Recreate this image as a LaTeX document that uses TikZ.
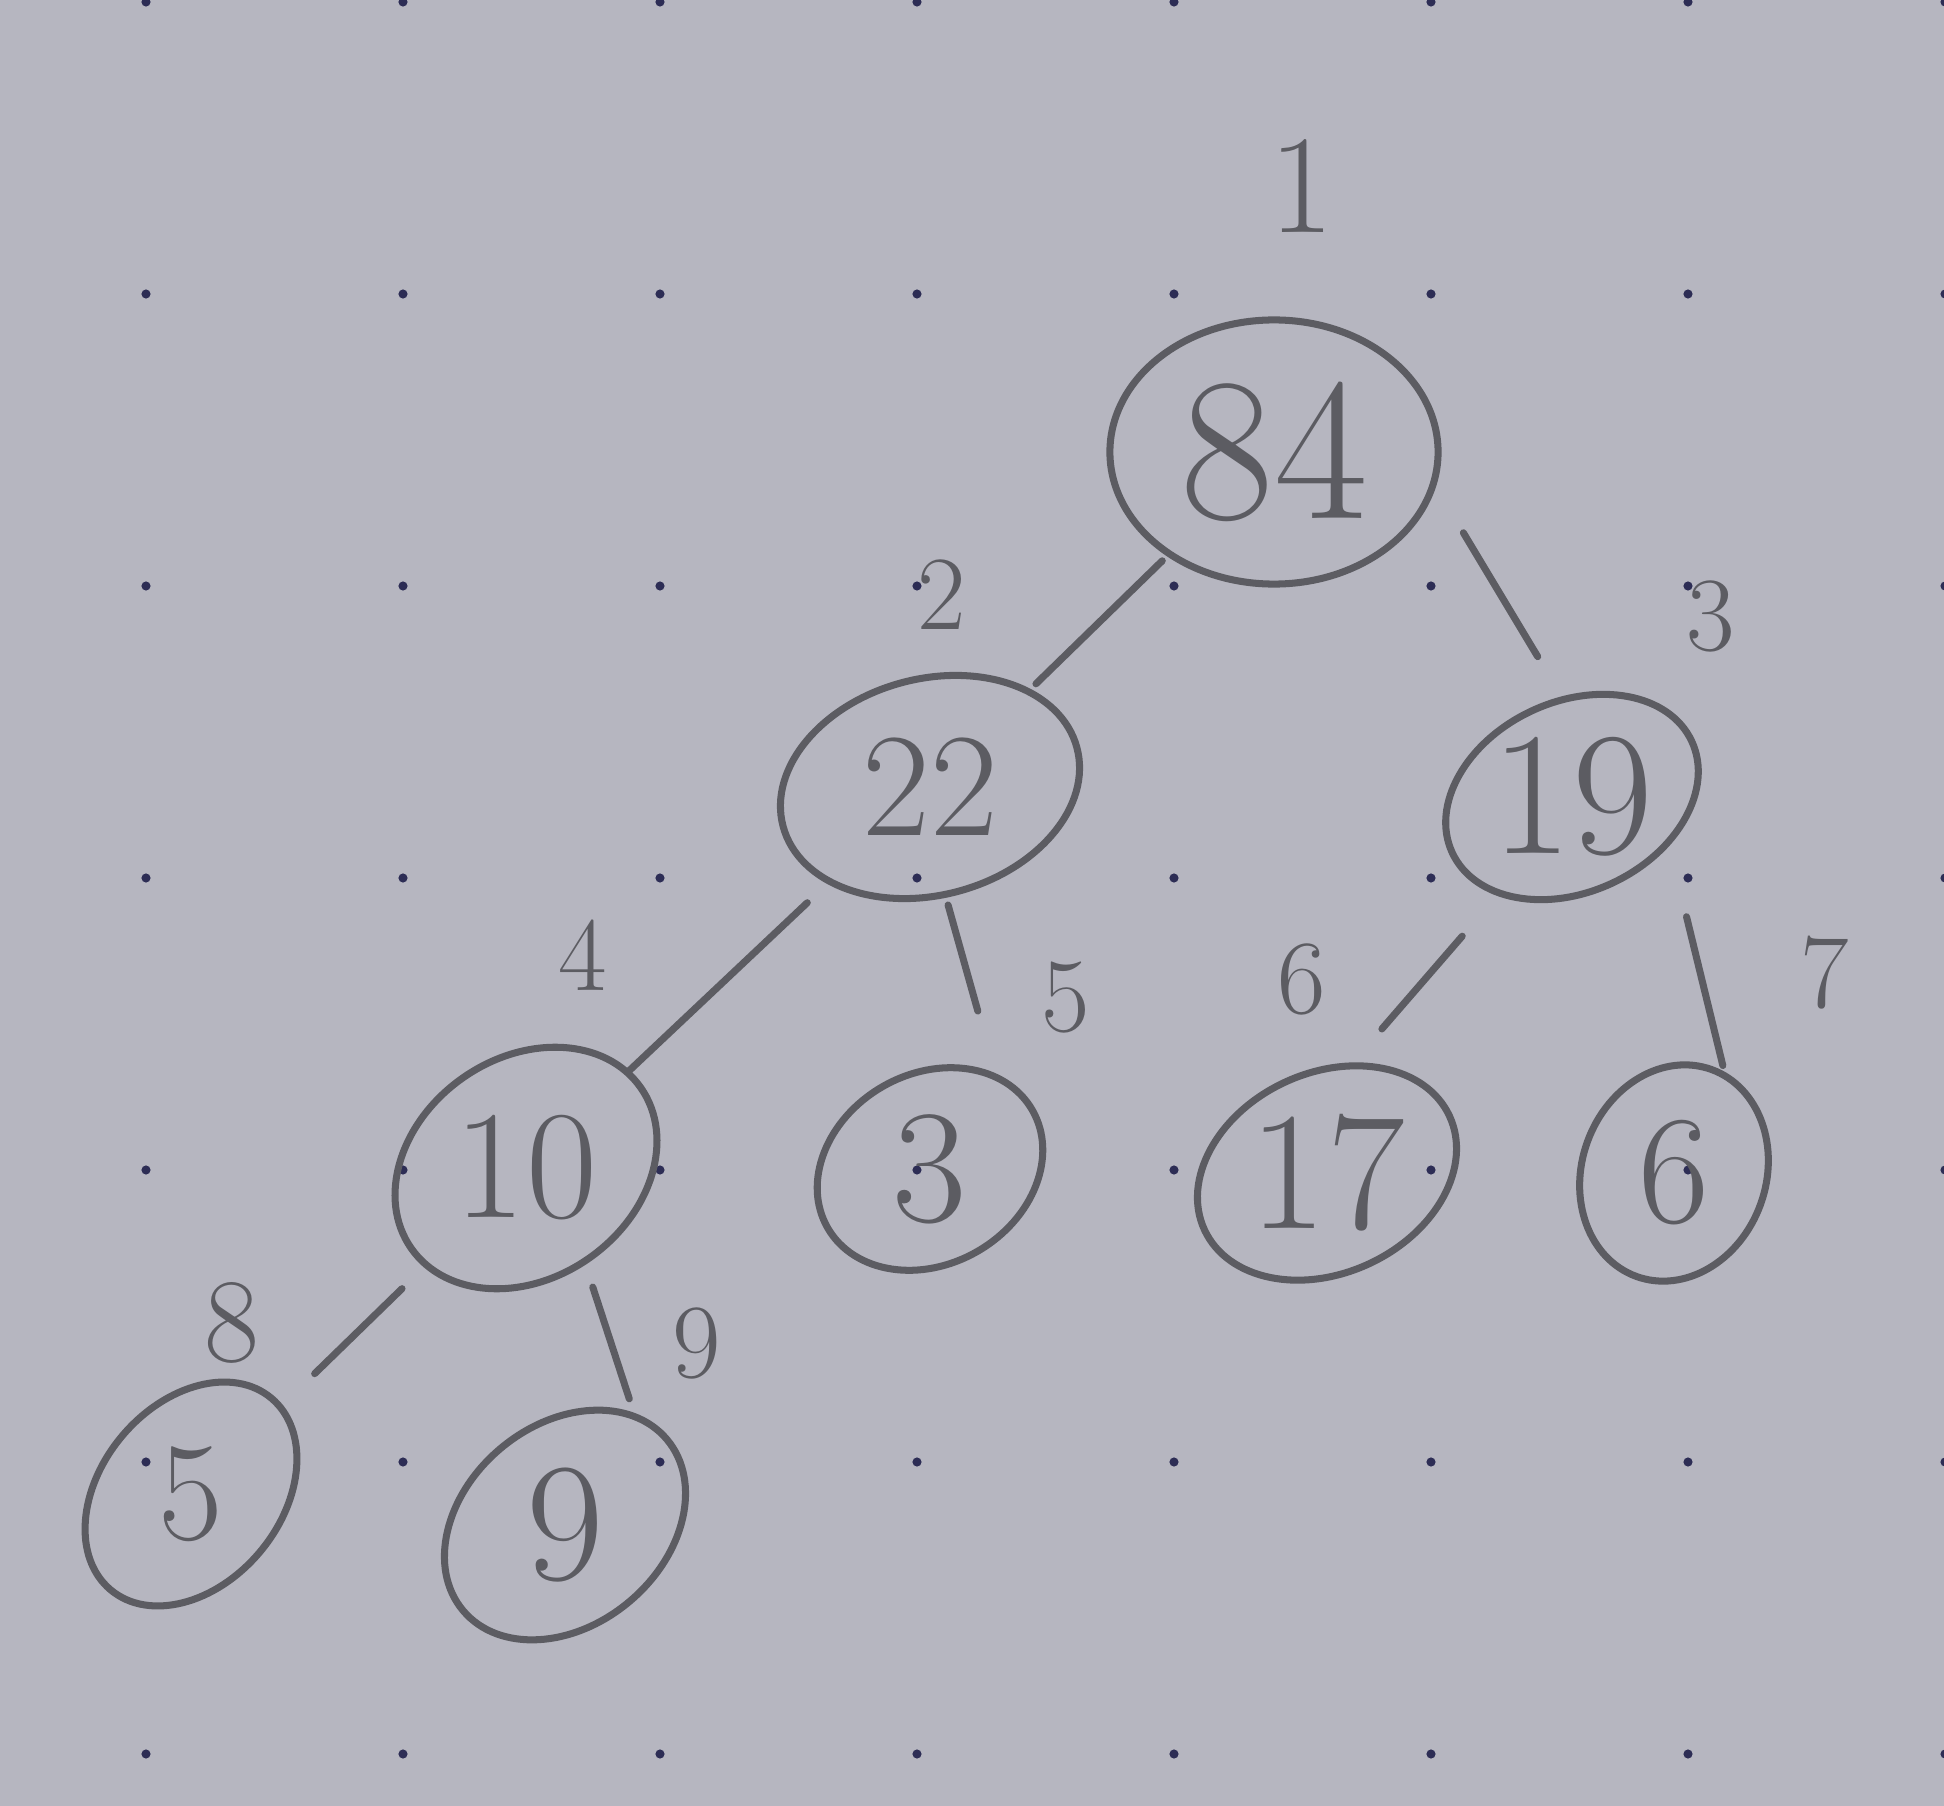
\documentclass[tikz,border=0pt]{standalone}
\usepackage{fontspec}
\usetikzlibrary{shapes.geometric}
\definecolor{paper}{RGB}{182,182,192}
\definecolor{pencil}{RGB}{92,92,98}
\definecolor{dotc}{RGB}{45,45,85}
\begin{document}
\begin{tikzpicture}[x=0.01cm,y=-0.01cm,
    heap/.style={draw=pencil, line width=2pt, ellipse, inner sep=0pt, outer sep=0pt},
    val/.style={text=pencil, font=\fontsize{44}{48}\selectfont},
    idx/.style={text=pencil, font=\fontsize{30}{34}\selectfont},
    edge/.style={draw=pencil, line width=2pt, line cap=round}]
    \useasboundingbox (0,0) rectangle (1944,1806);
    % paper and dot grid
    \fill[paper] (0,0) rectangle (1944,1806);
    \begin{scope}
      \clip (0,0) rectangle (1944,1806);
      \foreach \i in {0,...,7}
        \foreach \j in {0,...,6}
          \fill[dotc] (146+257*\i,2+292*\j) circle (1.3pt);
    \end{scope}
    % heap nodes
    \node[heap, minimum width=3.28cm, minimum height=2.64cm] (h1) at (1274,452) {};
    \node[heap, rotate=15, minimum width=3.04cm, minimum height=2.16cm] (h2) at (930,787) {};
    \node[heap, rotate=25, minimum width=2.64cm, minimum height=1.90cm] (h3) at (1572,797) {};
    \node[heap, rotate=35, minimum width=2.80cm, minimum height=2.20cm] (h4) at (526,1168) {};
    \node[heap, rotate=30, minimum width=2.36cm, minimum height=1.90cm] (h5) at (930,1169) {};
    \node[heap, rotate=25, minimum width=2.70cm, minimum height=2.00cm] (h6) at (1327,1173) {};
    \node[heap, rotate=70, minimum width=2.20cm, minimum height=1.84cm] (h7) at (1674,1173) {};
    \node[heap, rotate=50, minimum width=2.50cm, minimum height=1.80cm] (h8) at (191,1494) {};
    \node[heap, rotate=40, minimum width=2.66cm, minimum height=2.00cm] (h9) at (565,1525) {};
    % values
    \node[val, font=\fontsize{58}{60}\selectfont] (v1) at (h1) {84};
    \node[val, font=\fontsize{42}{46}\selectfont] (v2) at (h2) {22};
    \node[val, font=\fontsize{50}{54}\selectfont] (v3) at (h3) {19};
    \node[val] (v4) at (h4) {10};
    \node[val, font=\fontsize{46}{50}\selectfont] (v5) at (h5) {3};
    \node[val, font=\fontsize{48}{52}\selectfont] (v6) at (h6) {17};
    \node[val] (v7) at (h7) {6};
    \node[val, font=\fontsize{40}{44}\selectfont] (v8) at (h8) {5};
    \node[val, font=\fontsize{48}{52}\selectfont] (v9) at (h9) {9};
    % edges
    \draw[edge, shorten <=0.10cm, shorten >=0.11cm] (h1) -- (h2);
    \draw[edge, shorten <=0.58cm, shorten >=0.50cm] (h1.-11) -- (h3.70);
    \draw[edge, shorten <=0.31cm, shorten >=0.03cm] (h2) -- (h4);
    \draw[edge, shorten <=0.11cm, shorten >=0.69cm] (h2.-97) -- (h5.24);
    \draw[edge, shorten <=0.57cm, shorten >=0.49cm] (h3.208) -- (h6.53);
    \draw[edge, shorten <=0.77cm, shorten >=0.11cm] (h3.-50) -- (h7.-8);
    \draw[edge, shorten <=0.34cm, shorten >=0.48cm] (h4) -- (h8);
    \draw[edge, shorten <=0.27cm, shorten >=0.19cm] (h4.-93) -- (h9.17);
    % indices
    \node[idx, font=\fontsize{40}{44}\selectfont] (i1) at (1302,186) {1};
    \node[idx] (i2) at (942,595) {2};
    \node[idx] (i3) at (1711,616) {3};
    \node[idx] (i4) at (583,955) {4};
    \node[idx] (i5) at (1066,998) {5};
    \node[idx] (i6) at (1302,979) {6};
    \node[idx] (i7) at (1825,973) {7};
    \node[idx, font=\fontsize{34}{38}\selectfont] (i8) at (232,1323) {8};
    \node[idx] (i9) at (697,1343) {9};
\end{tikzpicture}
\end{document}
